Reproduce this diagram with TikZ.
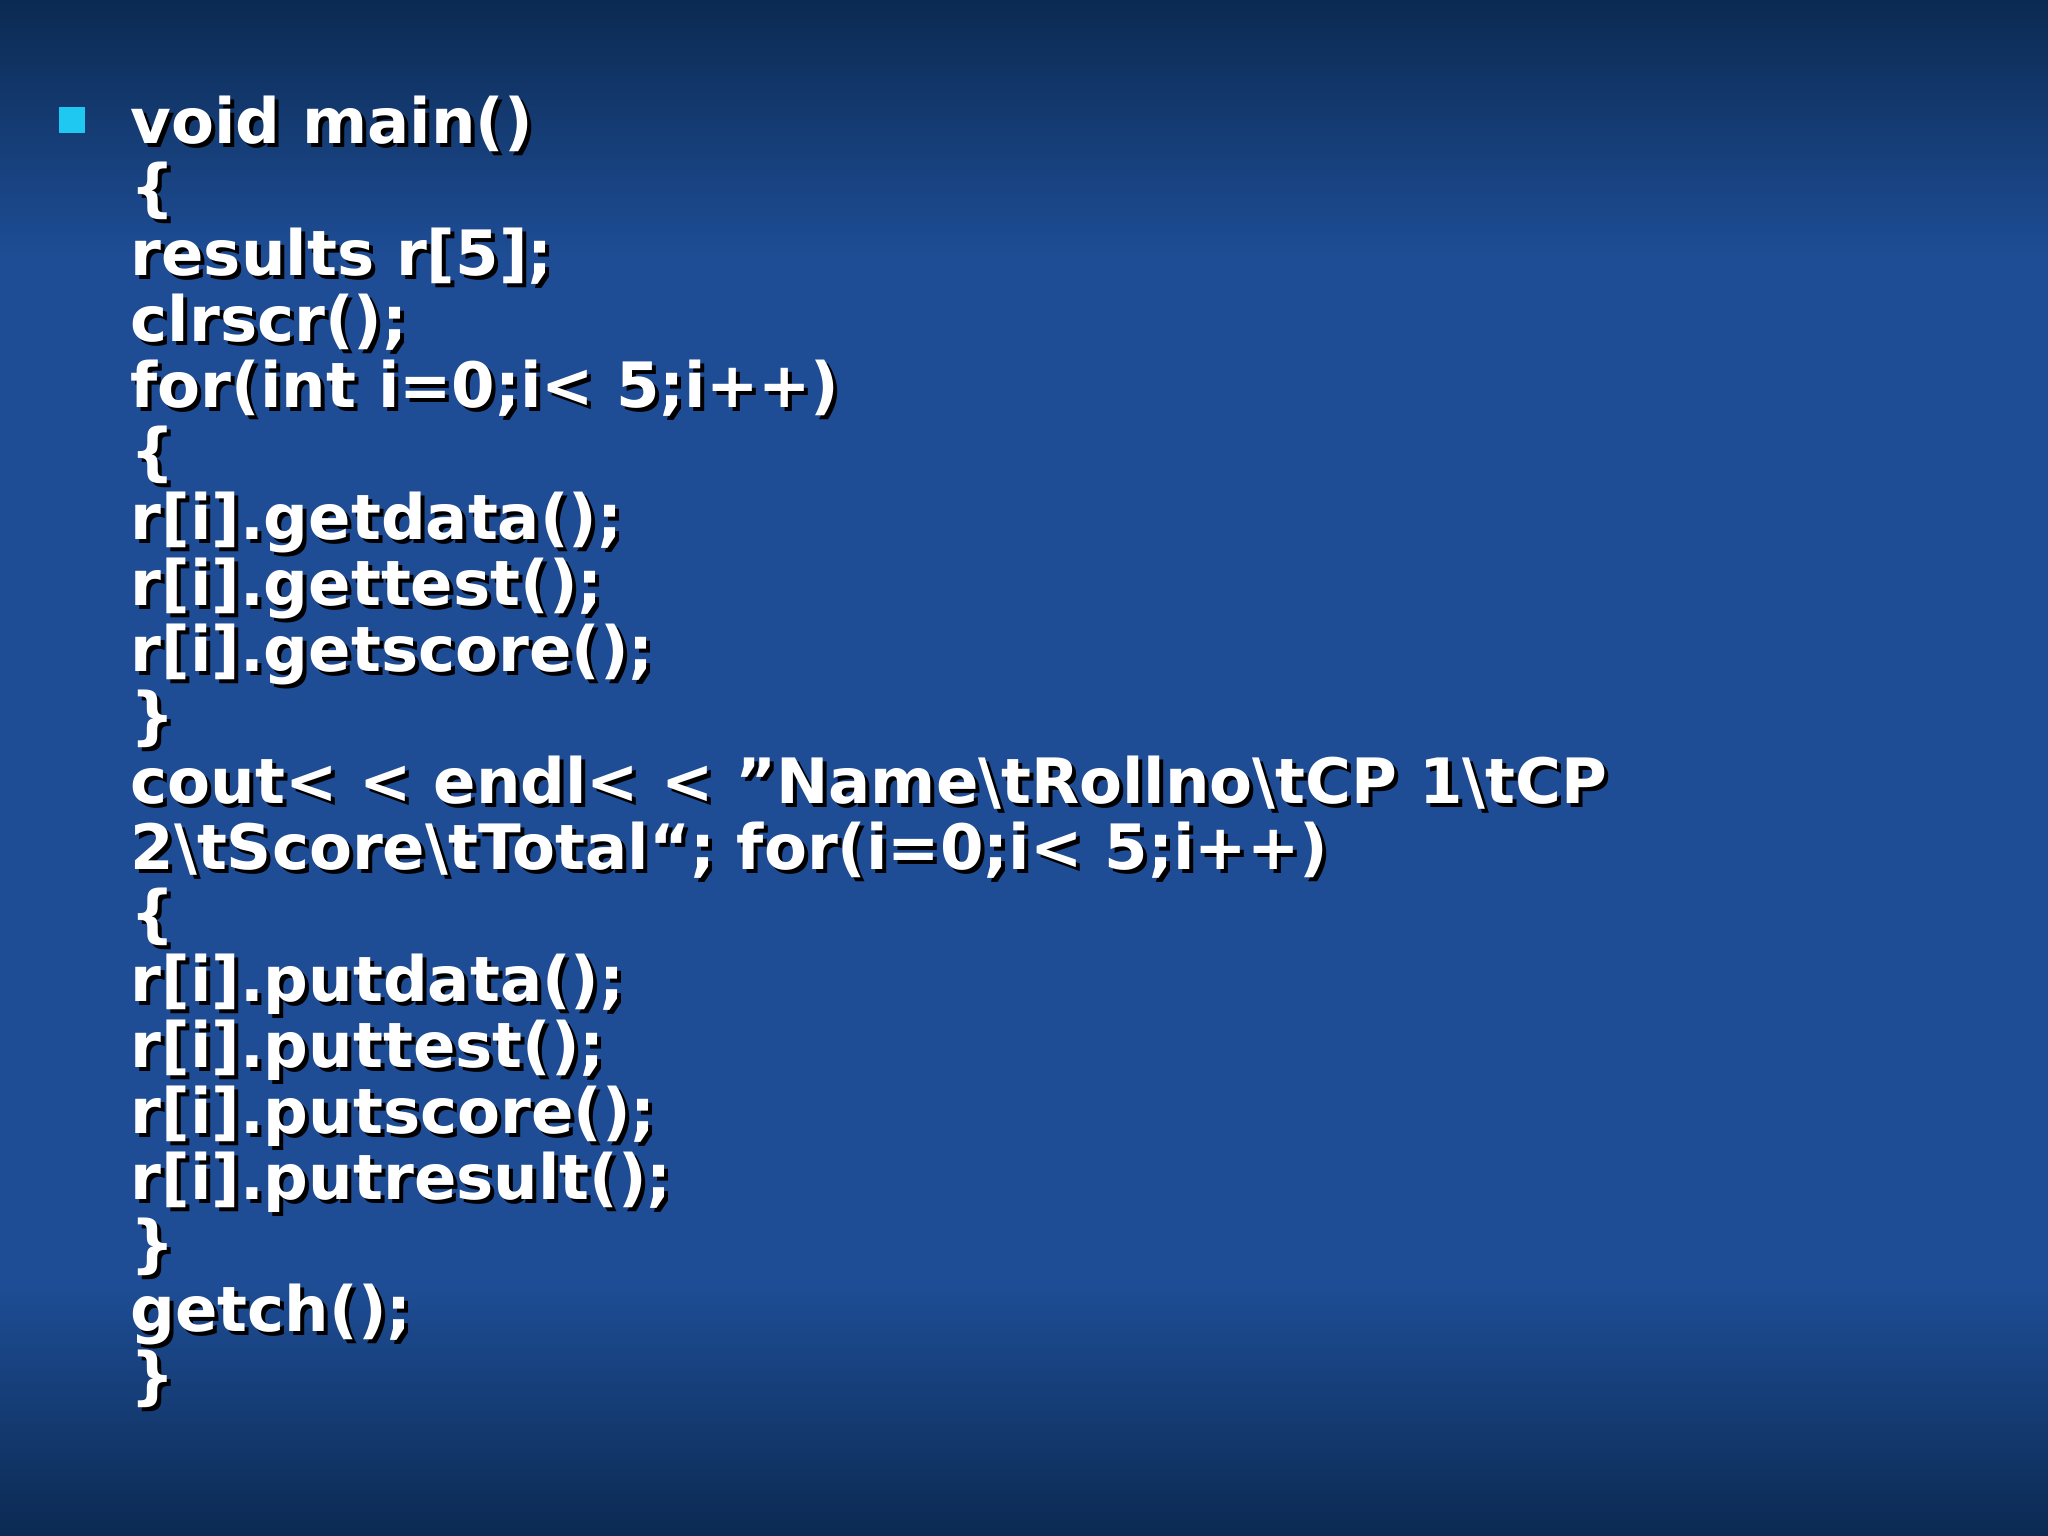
\documentclass[tikz,border=0pt]{standalone}
\usepackage{fontspec}
\setmainfont{DejaVu Sans}
\definecolor{bgdark}{HTML}{0B2A52}
\definecolor{bgmid}{HTML}{1E4D95}
\definecolor{bullet}{HTML}{1EC8F0}
\newcommand{\bs}{\textbackslash}
\newcommand{\dq}{\symbol{34}}
\begin{document}
\begin{tikzpicture}[x=1cm,y=1cm,
  codeline/.style={anchor=base west,inner sep=0pt,font=\bfseries\fontsize{17.8}{19}\selectfont,text=white},
  shadowline/.style={anchor=base west,inner sep=0pt,font=\bfseries\fontsize{17.8}{19}\selectfont,text=black}]
\useasboundingbox (0,0) rectangle (20.48,15.36);
\fill[bgmid] (0,2.5) rectangle (20.48,12.8);
\shade[top color=bgmid,bottom color=bgdark] (0,0) rectangle (20.48,2.5);
\shade[top color=bgdark,bottom color=bgmid] (0,12.8) rectangle (20.48,15.36);
\fill[bullet] (0.59,14.03) rectangle (0.85,14.29);
\foreach \t [count=\i from 0] in {%
 void main(),\{,results r[5];,clrscr();,for(int i=0;i< 5;i++),\{,%
 r[i].getdata();,r[i].gettest();,r[i].getscore();,\},%
 cout< < endl< < \dq Name\bs tRollno\bs tCP 1\bs tCP,%
 2\bs tScore\bs tTotal“; for(i=0;i< 5;i++),\{,%
 r[i].putdata();,r[i].puttest();,r[i].putscore();,r[i].putresult();,\},getch();,\}}{
  \node[shadowline] (s\i) at (1.34,13.88-0.66*\i) {\t};
  \node[codeline] (l\i) at (1.30,13.92-0.66*\i) {\t};
}
\end{tikzpicture}
\end{document}
